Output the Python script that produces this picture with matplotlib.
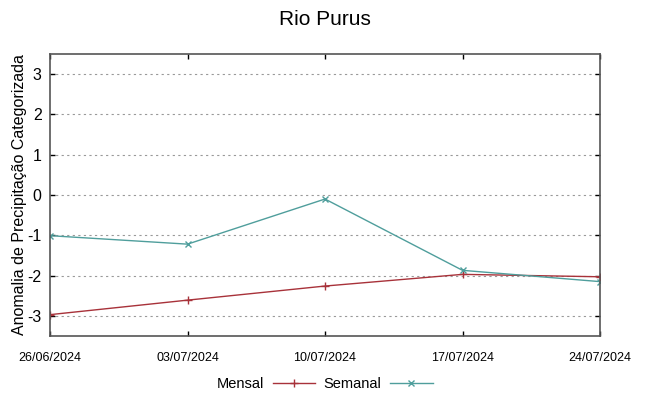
import matplotlib.pyplot as plt
from matplotlib.lines import Line2D

# dados
datas = ["26/06/2024", "03/07/2024", "10/07/2024", "17/07/2024", "24/07/2024"]
mensal = [-2.97, -2.61, -2.26, -1.97, -2.03]
semanal = [-1.01, -1.22, -0.10, -1.87, -2.15]
yticks = [-3, -2, -1, 0, 1, 2, 3]

plt.rcParams['font.family'] = ['Liberation Sans', 'DejaVu Sans']

fig = plt.figure(figsize=(6.49, 3.96), dpi=100)
ax = fig.add_axes([50/649, 60/396, 550/649, 282/396])

x = list(range(len(datas)))
cor_m = '#a8323a'
cor_s = '#4f9e9c'
ax.plot(x, mensal, color=cor_m, linewidth=1.0, marker='+', markersize=6, markeredgewidth=1.0)
ax.plot(x, semanal, color=cor_s, linewidth=1.0, marker='x', markersize=5, markeredgewidth=1.0)

ax.set_xlim(0, len(datas) - 1)
ax.set_ylim(-3.5, 3.5)
ax.set_xticks(x)
ax.set_xticklabels(datas, fontsize=9)
ax.set_yticks(yticks)
ax.set_yticklabels([str(v) for v in yticks], fontsize=11.5)
ax.tick_params(direction='in', top=True, right=True, length=3.5, width=1, pad=6)
ax.tick_params(axis='x', pad=11.5)
ax.grid(axis='y', linestyle=(0, (2, 3)), color='#999999', linewidth=0.8)
for s in ax.spines.values():
    s.set_color('#555555')
    s.set_linewidth(1.2)

ax.set_ylabel("Anomalia de Precipitação Categorizada", fontsize=11.5, labelpad=0)
fig.suptitle("Rio Purus", fontsize=15, y=0.975)

handles = [Line2D([], [], color=cor_m, marker='+', markersize=6, linewidth=1.0),
           Line2D([], [], color=cor_s, marker='x', markersize=5, linewidth=1.0)]
fig.legend(handles, ["Mensal", "Semanal"], loc='lower center', bbox_to_anchor=(0.5, -0.02),
           ncol=2, frameon=False, markerfirst=False, fontsize=10.5, handlelength=2.9,
           columnspacing=0.6, handletextpad=0.6)

fig.savefig("out.png", dpi=100)
